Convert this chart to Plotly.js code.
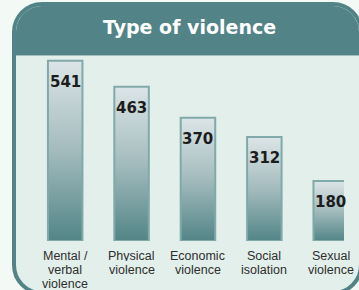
<!DOCTYPE html>
<html>
<head>
<meta charset="utf-8">
<script src="https://cdn.plot.ly/plotly-3.0.1.min.js"></script>
<style>
  html, body { margin:0; padding:0; width:359px; height:290px; overflow:hidden; background:#f3f9f5; }
  #frame { position:absolute; left:12px; top:2px; width:351px; height:293px; box-sizing:border-box;
           border:4px solid #528487; border-radius:30px; background:#e3efea; overflow:hidden; }
  #header { position:absolute; left:0; top:0; right:0; height:49px; background:#528487; border-bottom:1px solid #9fbfbd; }
  #chart { position:absolute; left:0; top:0; width:359px; height:290px; }
</style>
</head>
<body>
<div id="frame"><div id="header"></div></div>
<div id="chart"></div>
<script>
const titleText = 'Type of violence';
const categories = ['Mental /<br>verbal<br>violence', 'Physical<br>violence', 'Economic<br>violence', 'Social<br>isolation', 'Sexual<br>violence'];
const values = [541, 463, 370, 312, 180];

const trace = {
  type: 'bar',
  x: categories,
  y: values,
  marker: { color: '#8fb0b1', line: { color: '#82a9aa', width: 2 } },
  hoverinfo: 'none'
};

const annotations = [];
categories.forEach((c, i) => {
  annotations.push({
    x: c, y: values[i], xref: 'x', yref: 'y', yanchor: 'top', yshift: -10,
    text: String(values[i]), showarrow: false,
    font: { family: 'DejaVu Sans', size: 15, color: '#1c1c1c', weight: 'bold' }
  });
  c.split('<br>').forEach((line, k) => {
    annotations.push({
      x: c, y: 0, xref: 'x', yref: 'y', yanchor: 'top', yshift: -8 - k * 14,
      height: 11, borderpad: 0,
      text: line, showarrow: false,
      font: { family: 'Liberation Sans, Arial, sans-serif', size: 12.5, color: '#2e2e2e' }
    });
  });
});

const layout = {
  width: 359, height: 290,
  margin: { l: 32, r: 15, t: 54, b: 49 },
  paper_bgcolor: 'rgba(0,0,0,0)', plot_bgcolor: 'rgba(0,0,0,0)',
  bargap: 0.48,
  showlegend: false,
  title: { text: '<b>' + titleText + '</b>', x: 189.5 / 359, xref: 'container', xanchor: 'center',
           y: 1 - 27.5 / 290, yref: 'container', yanchor: 'middle',
           font: { family: 'DejaVu Sans', size: 19, color: '#ffffff' } },
  xaxis: { type: 'category', range: [-0.5, 4.2], showticklabels: false, showgrid: false, zeroline: false, showline: false, ticks: '' },
  yaxis: { range: [0, 561], visible: false, showgrid: false, zeroline: false },
  annotations: annotations
};

Plotly.newPlot('chart', [trace], layout, { displayModeBar: false, staticPlot: true }).then(gd => {
  const svg = gd.querySelector('svg.main-svg');
  const ns = 'http://www.w3.org/2000/svg';
  let defs = svg.querySelector('defs');
  if (!defs) { defs = document.createElementNS(ns, 'defs'); svg.insertBefore(defs, svg.firstChild); }
  const g = document.createElementNS(ns, 'linearGradient');
  g.setAttribute('id', 'barGrad');
  g.setAttribute('x1', '0'); g.setAttribute('y1', '0'); g.setAttribute('x2', '0'); g.setAttribute('y2', '1');
  [['0', '#dce5e7'], ['0.5', '#a3bbbd'], ['1', '#528587']].forEach(([o, col]) => {
    const s = document.createElementNS(ns, 'stop');
    s.setAttribute('offset', o); s.setAttribute('stop-color', col);
    g.appendChild(s);
  });
  defs.appendChild(g);
  gd.querySelectorAll('.barlayer .point path').forEach(p => { p.style.fill = 'url(#barGrad)'; });
});
</script>
</body>
</html>
